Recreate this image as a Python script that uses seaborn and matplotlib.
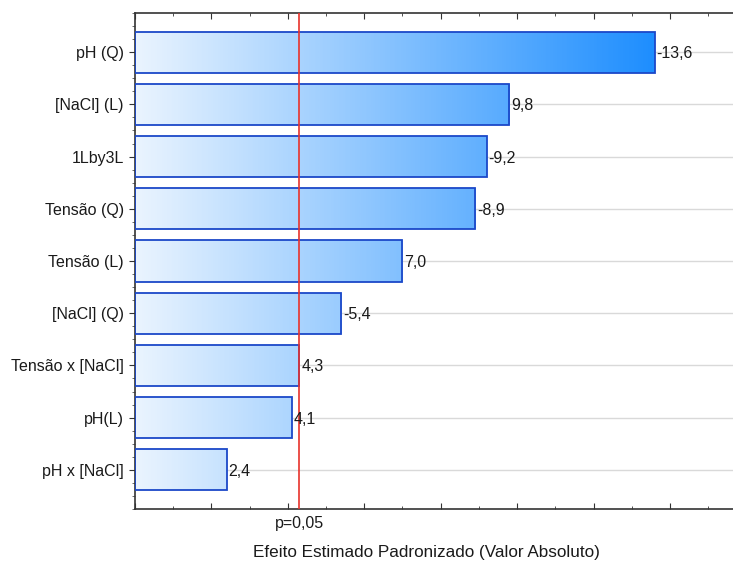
import numpy as np
import pandas as pd
import seaborn as sns
import matplotlib.pyplot as plt
from matplotlib.colors import LinearSegmentedColormap
from matplotlib.ticker import MultipleLocator

# effects (signed), Pareto order
fatores = ['pH (Q)', '[NaCl] (L)', '1Lby3L', 'Tensão (Q)', 'Tensão (L)',
           '[NaCl] (Q)', 'Tensão x [NaCl]', 'pH(L)', 'pH x [NaCl]']
efeitos = [-13.6, 9.8, -9.2, -8.9, 7.0, -5.4, 4.3, 4.1, 2.4]
p_lim = 4.303

df = pd.DataFrame({'fator': fatores, 'efeito': efeitos})
df['abs'] = df['efeito'].abs()

sns.set_style('white')
plt.rcParams['font.family'] = ['Liberation Sans', 'DejaVu Sans']
fs = 11.5

fig = plt.figure(figsize=(7.33, 5.61), dpi=100)
ax = fig.add_axes([0.1842, 0.0927, 0.8158, 0.8841])

sns.barplot(data=df, x='abs', y='fator', orient='h', ax=ax, width=0.79,
            color='#9ccbfb', edgecolor='#1b48c8', linewidth=1.3, zorder=3)

xmax = 15.65
ax.set_xlim(0, xmax)
ax.set_ylim(8.75, -0.75)

# gradient fill clipped to each bar
cmap = LinearSegmentedColormap.from_list('grad', ['#eaf4fe', '#1e8eff'])
grad = np.linspace(0, xmax / 13.6, 400).reshape(1, -1)
for p in ax.patches:
    p.set_facecolor('none')
    im = ax.imshow(grad, extent=[0, xmax, 8.75, -0.75], aspect='auto',
                   cmap=cmap, vmin=0, vmax=1, zorder=2)
    im.set_clip_path(p)
ax.set_xlim(0, xmax)
ax.set_ylim(8.75, -0.75)

for i in range(len(fatores)):
    ax.axhline(i, color='#d9d9d9', lw=1, zorder=1)

ax.axvline(p_lim, color='#e8322b', lw=1.2, zorder=4)

for i, (a, e) in enumerate(zip(df['abs'], df['efeito'])):
    ax.text(a + 0.05, i, f'{e:.1f}'.replace('.', ','), va='center_baseline',
            ha='left', fontsize=fs, color='#1a1a1a', zorder=5)

for s in ['left', 'top', 'bottom']:
    ax.spines[s].set_visible(True)
    ax.spines[s].set_color('#333333')
    ax.spines[s].set_linewidth(1.2)
ax.spines['right'].set_visible(False)

ax.xaxis.set_major_locator(MultipleLocator(2))
ax.xaxis.set_minor_locator(MultipleLocator(1))
ax.tick_params(axis='x', which='major', direction='in', length=4, top=True,
               bottom=True, labelbottom=False, color='#333333')
ax.tick_params(axis='x', which='minor', direction='in', length=2, top=True,
               bottom=True, color='#333333')
ax.yaxis.set_minor_locator(MultipleLocator(0.25))
ax.tick_params(axis='y', which='major', direction='out', length=4, left=True,
               labelsize=fs, labelcolor='#1a1a1a', color='#333333', pad=4)
ax.tick_params(axis='y', which='minor', direction='out', length=2, left=True,
               color='#555555')

ax.set_ylabel('')
ax.text(p_lim, -0.0283, 'p=0,05', transform=ax.get_xaxis_transform(),
        ha='center', va='center', fontsize=fs, color='#1a1a1a')
ax.set_xlabel('Efeito Estimado Padronizado (Valor Absoluto)', fontsize=12.3,
              color='#1a1a1a')
ax.xaxis.set_label_coords(0.488, -0.0887)
ax.xaxis.label.set_va('center')

fig.savefig('out.png', dpi=100)
